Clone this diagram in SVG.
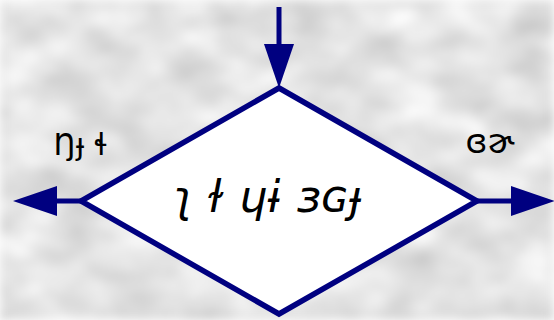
<svg xmlns="http://www.w3.org/2000/svg" width="554" height="320" viewBox="0 0 554 320">
<style>
.shape{fill:#ffffff;stroke:#000080;stroke-width:5.5;stroke-linejoin:miter}
.conn{stroke:#000080;stroke-width:5;fill:none}
.lbl{font-family:"DejaVu Sans",sans-serif;fill:#000000}
.main{font-family:"DejaVu Sans",sans-serif;font-style:italic;fill:#000000}
</style>
<defs>
<marker id="arr" markerUnits="userSpaceOnUse" markerWidth="44" markerHeight="30" refX="0" refY="15" orient="auto">
<path d="M0,0 L44,15 L0,30 z" fill="#000080"/>
</marker>
<filter id="tex" x="0" y="0" width="100%" height="100%" color-interpolation-filters="sRGB">
<feTurbulence type="fractalNoise" baseFrequency="0.018 0.03" numOctaves="3" seed="7"/>
<feColorMatrix type="matrix" values="0.3 0 0 0 0.74  0.3 0 0 0 0.74  0.3 0 0 0 0.74  0 0 0 0 1"/>
<feGaussianBlur stdDeviation="4"/>
</filter>
</defs>
<rect width="554" height="320" fill="#e4e4e4" filter="url(#tex)"/>
<g id="connectors">
<line class="conn" x1="279" y1="7" x2="279" y2="44" marker-end="url(#arr)"/>
<line class="conn" x1="81" y1="201" x2="57" y2="201" marker-end="url(#arr)"/>
<line class="conn" x1="477" y1="201" x2="511" y2="201" marker-end="url(#arr)"/>
</g>
<g id="decision">
<polygon class="shape" points="279,88 477,201 279,314 81,201"/>
<text class="main" x="268" y="212" font-size="44" text-anchor="middle">ʅ ɫ ɥɨ ɜɢɟ</text>
</g>
<g id="label-left">
<text class="lbl" x="81" y="155" font-size="30" text-anchor="middle">Ŋɟ ɬ</text>
</g>
<g id="label-right">
<text class="lbl" x="490" y="153" font-size="33" text-anchor="middle">ɞɚ</text>
</g>
</svg>
